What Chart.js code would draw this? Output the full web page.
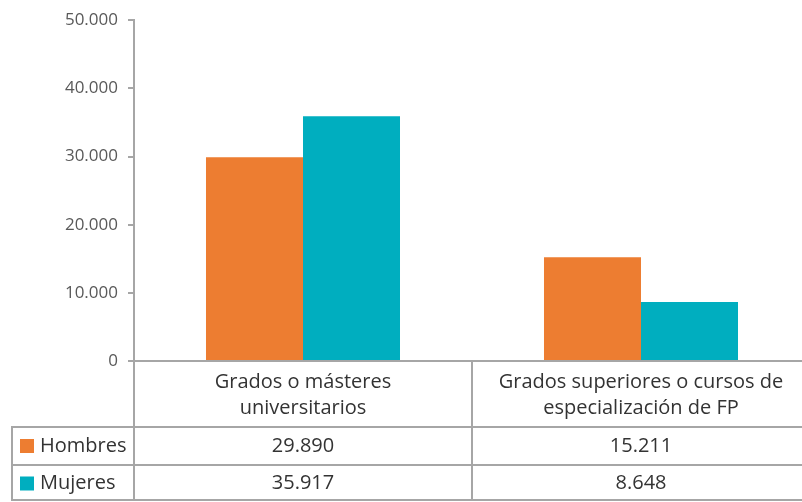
<!DOCTYPE html>
<html><head><meta charset="utf-8">
<script src="https://cdn.jsdelivr.net/npm/chart.js@4/dist/chart.umd.min.js"></script>
<style>html,body{margin:0;padding:0;overflow:hidden;background:#fff}#wrap{width:810px;height:502px}</style>
</head><body><div id="wrap"><canvas id="c" width="810" height="502"></canvas></div>
<script>
const categories = [["Grados o másteres","universitarios"],["Grados superiores o cursos de","especialización de FP"]];
const seriesNames = ["Hombres","Mujeres"];
const hombres = [29890, 15211];
const mujeres = [35917, 8648];
const yTicks = [0,10000,20000,30000,40000,50000];
const colors = ["#ED7D31","#00AEBF"];

const fmt = v => String(v).replace(/\B(?=(\d{3})+(?!\d))/g, ".");
const LINE = "#a6a6a6";
const FONT = "'Open Sans', sans-serif";

const tablePlugin = {
  id: 'dataTable',
  afterDraw(chart) {
    const ctx = chart.ctx, x = chart.scales.x, area = chart.chartArea;
    const y0 = area.bottom, r1 = 427, r2 = 465, r3 = 500, left = 12;
    const half = (x.getPixelForValue(1) - x.getPixelForValue(0)) / 2;
    ctx.save();
    ctx.strokeStyle = LINE; ctx.lineWidth = 2;
    ctx.beginPath();
    [r1, r2, r3].forEach(yy => { ctx.moveTo(left, yy); ctx.lineTo(chart.width, yy); });
    ctx.moveTo(left, r1 - 1); ctx.lineTo(left, r3 + 1);
    for (let i = 0; i <= categories.length; i++) {
      const xx = x.getPixelForValue(0) - half + i * 2 * half;
      ctx.moveTo(xx, y0); ctx.lineTo(xx, r3 + 1);
    }
    ctx.stroke();
    ctx.fillStyle = "#333333";
    ctx.textAlign = "center"; ctx.textBaseline = "middle";
    ctx.font = "20px " + FONT;
    categories.forEach((lines, i) => {
      const cx = x.getPixelForValue(i);
      lines.forEach((t, j) => ctx.fillText(t, cx, y0 + 21 + j * 26));
    });
    const rows = [hombres, mujeres];
    rows.forEach((vals, k) => {
      const cy = k === 0 ? (r1 + r2) / 2 : (r2 + r3) / 2 + 1;
      vals.forEach((v, i) => { ctx.textAlign = "center"; ctx.fillText(fmt(v), x.getPixelForValue(i), cy); });
      ctx.fillStyle = colors[k];
      ctx.fillRect(20, cy - 7, 14, 14);
      ctx.fillStyle = "#333333";
      ctx.textAlign = "left";
      ctx.fillText(seriesNames[k], 40, cy);
    });
    ctx.restore();
  }
};

new Chart(document.getElementById('c'), {
  type: 'bar',
  data: {
    labels: categories,
    datasets: [
      { label: seriesNames[0], data: hombres, backgroundColor: colors[0] },
      { label: seriesNames[1], data: mujeres, backgroundColor: colors[1] }
    ]
  },
  options: {
    responsive: false, animation: false,
    layout: { padding: { top: 20, left: 0, right: 0, bottom: 0 } },
    categoryPercentage: 0.574, barPercentage: 1,
    plugins: { legend: { display: false }, tooltip: { enabled: false } },
    scales: {
      x: {
        ticks: { display: false },
        grid: { display: false },
        border: { color: LINE, width: 2 },
        afterFit(s) { s.height = 141; }
      },
      y: {
        min: 0, max: 50000,
        afterBuildTicks(s) { s.ticks = yTicks.map(v => ({ value: v })); },
        ticks: { color: "#595959", font: { family: FONT, size: 17 }, padding: 10, callback: v => fmt(v) },
        grid: { drawOnChartArea: false, tickLength: 6, color: LINE, lineWidth: 2 },
        border: { color: LINE, width: 2 },
        afterFit(s) { s.width = 134; }
      }
    }
  },
  plugins: [tablePlugin]
});
</script></body></html>
